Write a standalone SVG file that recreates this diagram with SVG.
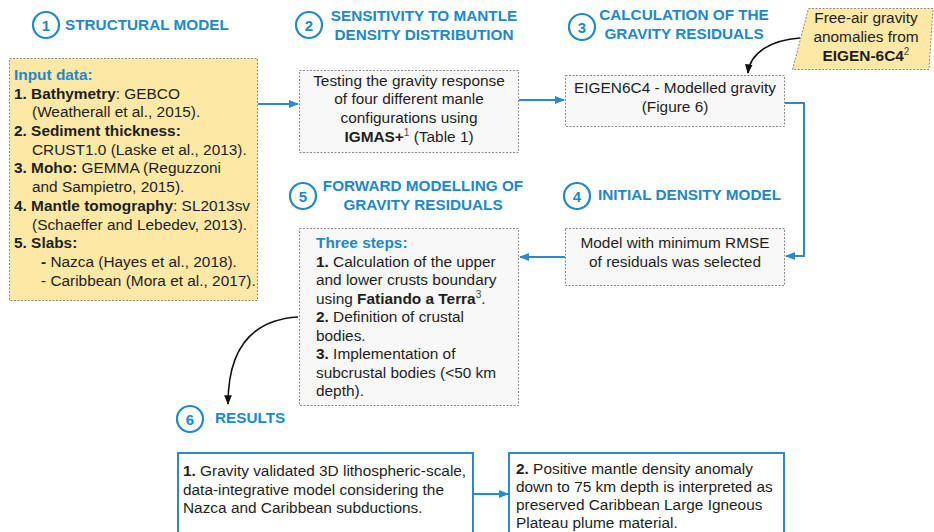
<svg xmlns="http://www.w3.org/2000/svg" width="934" height="532" viewBox="0 0 934 532">
<style>
  text { font-family: "Liberation Sans", Arial, sans-serif; }
  .body { font-size: 15.4px; fill: #1e1e1e; }
  .b { font-weight: bold; }
  .sup { font-size: 10px; fill: #444; }
  .head { font-size: 15.3px; font-weight: bold; fill: #2188c9; }
  .num { font-size: 15px; font-weight: bold; fill: #2188c9; text-anchor: middle; }
  .circ { fill: none; stroke: #2188c9; stroke-width: 2.2; }
  .dot { fill: #f8f8f8; stroke: #8a8a8a; stroke-width: 1; stroke-dasharray: 2 1.5; }
  .yel { fill: #fde8a6; stroke: #8a8a8a; stroke-width: 1; stroke-dasharray: 2 1.5; }
  .res { fill: #ffffff; stroke: #2a8acb; stroke-width: 2; }
  .blue { fill: none; stroke: #2a8acb; stroke-width: 2; marker-end: url(#ab); }
  .black { fill: none; stroke: #111; stroke-width: 1.6; marker-end: url(#ak); }
  .blueT { fill: #2188c9; font-weight: bold; }
</style>
<defs>
  <marker id="ab" viewBox="0 0 10 10" refX="9" refY="5" markerWidth="5" markerHeight="5" orient="auto" markerUnits="strokeWidth">
    <path d="M0,1 L10,5 L0,9 Z" fill="#2a8acb"/>
  </marker>
  <marker id="ak" viewBox="0 0 10 10" refX="9" refY="5" markerWidth="6" markerHeight="6" orient="auto" markerUnits="strokeWidth">
    <path d="M0,1 L10,5 L0,9 Z" fill="#111"/>
  </marker>
</defs>
<rect x="0" y="0" width="934" height="532" fill="#ffffff"/>

<!-- headings -->
<g id="h1">
  <circle class="circ" cx="46" cy="25" r="13"/>
  <text class="num" x="46" y="30.5">1</text>
  <text class="head" x="65" y="30">STRUCTURAL MODEL</text>
</g>
<g id="h2">
  <circle class="circ" cx="309" cy="25" r="13"/>
  <text class="num" x="309" y="30.5">2</text>
  <text class="head" text-anchor="middle" x="424" y="21">SENSITIVITY TO MANTLE</text>
  <text class="head" text-anchor="middle" x="424" y="40">DENSITY DISTRIBUTION</text>
</g>
<g id="h3">
  <circle class="circ" cx="582" cy="27" r="13"/>
  <text class="num" x="582" y="32.5">3</text>
  <text class="head" text-anchor="middle" x="684" y="20">CALCULATION OF THE</text>
  <text class="head" text-anchor="middle" x="684" y="39">GRAVITY RESIDUALS</text>
</g>
<g id="h4">
  <circle class="circ" cx="577" cy="196" r="13"/>
  <text class="num" x="577" y="201.5">4</text>
  <text class="head" x="598" y="200">INITIAL DENSITY MODEL</text>
</g>
<g id="h5">
  <circle class="circ" cx="303" cy="196" r="13"/>
  <text class="num" x="303" y="201.5">5</text>
  <text class="head" text-anchor="middle" x="423" y="191">FORWARD MODELLING OF</text>
  <text class="head" text-anchor="middle" x="423" y="210">GRAVITY RESIDUALS</text>
</g>
<g id="h6">
  <circle class="circ" cx="190" cy="419" r="13"/>
  <text class="num" x="190" y="424.5">6</text>
  <text class="head" x="215" y="423">RESULTS</text>
</g>

<!-- input data -->
<g id="input">
  <rect class="yel" x="9.5" y="58.5" width="248" height="242"/>
  <text class="body" x="14" y="80"><tspan class="blueT">Input data:</tspan></text>
  <text class="body" x="14" y="99"><tspan class="b">1. Bathymetry</tspan>: GEBCO</text>
  <text class="body" x="32" y="117">(Weatherall et al., 2015).</text>
  <text class="body b" x="14" y="136">2. Sediment thickness:</text>
  <text class="body" x="32" y="155">CRUST1.0 (Laske et al., 2013).</text>
  <text class="body" x="14" y="173"><tspan class="b">3. Moho:</tspan> GEMMA (Reguzzoni</text>
  <text class="body" x="32" y="192">and Sampietro, 2015).</text>
  <text class="body" x="14" y="211"><tspan class="b">4. Mantle tomography</tspan>: SL2013sv</text>
  <text class="body" x="32" y="230">(Schaeffer and Lebedev, 2013).</text>
  <text class="body b" x="14" y="248">5. Slabs:</text>
  <text class="body" x="41" y="267"><tspan class="b">-</tspan> Nazca (Hayes et al., 2018).</text>
  <text class="body" x="41" y="286">- Caribbean (Mora et al., 2017).</text>
</g>

<!-- sensitivity box -->
<g id="sens">
  <rect class="dot" x="299.5" y="70.5" width="219" height="82"/>
  <text class="body" text-anchor="middle" x="409" y="86">Testing the gravity response</text>
  <text class="body" text-anchor="middle" x="409" y="104">of four different manle</text>
  <text class="body" text-anchor="middle" x="409" y="123">configurations using</text>
  <text class="body" text-anchor="middle" x="409" y="142"><tspan class="b">IGMAS+</tspan><tspan class="sup" dy="-6">1</tspan><tspan dy="6"> (Table 1)</tspan></text>
</g>

<!-- residual calc box -->
<g id="calc">
  <rect class="dot" x="565.5" y="75.5" width="219" height="51"/>
  <text class="body" text-anchor="middle" x="675" y="93">EIGEN6C4 - Modelled gravity</text>
  <text class="body" text-anchor="middle" x="675" y="112">(Figure 6)</text>
</g>

<!-- free air -->
<g id="freeair">
  <polygon class="yel" points="808.5,8.5 933,8.5 929,69.5 792.5,69.5"/>
  <text class="body" text-anchor="middle" x="866" y="23">Free-air gravity</text>
  <text class="body" text-anchor="middle" x="866" y="42">anomalies from</text>
  <text class="body" text-anchor="middle" x="866" y="61"><tspan class="b">EIGEN-6C4</tspan><tspan class="sup" dy="-6">2</tspan></text>
</g>

<!-- initial density box -->
<g id="initial">
  <rect class="dot" x="565.5" y="228.5" width="219" height="57"/>
  <text class="body" text-anchor="middle" x="675" y="248">Model with minimum RMSE</text>
  <text class="body" text-anchor="middle" x="675" y="267">of residuals was selected</text>
</g>

<!-- forward modelling box -->
<g id="forward">
  <rect class="dot" x="299.5" y="228.5" width="219" height="177"/>
  <text class="body" x="316" y="248"><tspan class="blueT">Three steps:</tspan></text>
  <text class="body" x="316" y="267"><tspan class="b">1.</tspan> Calculation of the upper</text>
  <text class="body" x="316" y="285">and lower crusts boundary</text>
  <text class="body" x="316" y="304">using <tspan class="b">Fatiando a Terra</tspan><tspan class="sup" dy="-6">3</tspan><tspan dy="6">.</tspan></text>
  <text class="body" x="316" y="322"><tspan class="b">2.</tspan> Definition of crustal</text>
  <text class="body" x="316" y="341">bodies.</text>
  <text class="body" x="316" y="359"><tspan class="b">3.</tspan> Implementation of</text>
  <text class="body" x="316" y="378">subcrustal bodies (&lt;50 km</text>
  <text class="body" x="316" y="396">depth).</text>
</g>

<!-- results -->
<g id="result1">
  <rect class="res" x="178" y="453" width="295" height="90"/>
  <text class="body" x="183" y="476"><tspan class="b">1.</tspan> Gravity validated 3D lithospheric-scale,</text>
  <text class="body" x="183" y="495">data-integrative model considering the</text>
  <text class="body" x="183" y="513">Nazca and Caribbean subductions.</text>
</g>
<g id="result2">
  <rect class="res" x="509" y="453" width="275" height="90"/>
  <text class="body" x="516" y="474"><tspan class="b">2.</tspan> Positive mantle density anomaly</text>
  <text class="body" x="516" y="492">down to 75 km depth is interpreted as</text>
  <text class="body" x="516" y="510">preserved Caribbean Large Igneous</text>
  <text class="body" x="516" y="528">Plateau plume material.</text>
</g>

<!-- connectors -->
<g id="connectors">
  <path class="blue" d="M258,104 L298,104"/>
  <path class="blue" d="M519,100 L564,100"/>
  <path class="blue" d="M785,103 L804,103 L804,256 L786,256"/>
  <path class="blue" d="M565,257 L520,257"/>
  <path class="blue" d="M473,494 L508,494"/>
  <path class="black" d="M800,38 C772,40 750,52 748,73"/>
  <path class="black" d="M298,317 C250,320 228,350 228,404"/>
</g>
</svg>
